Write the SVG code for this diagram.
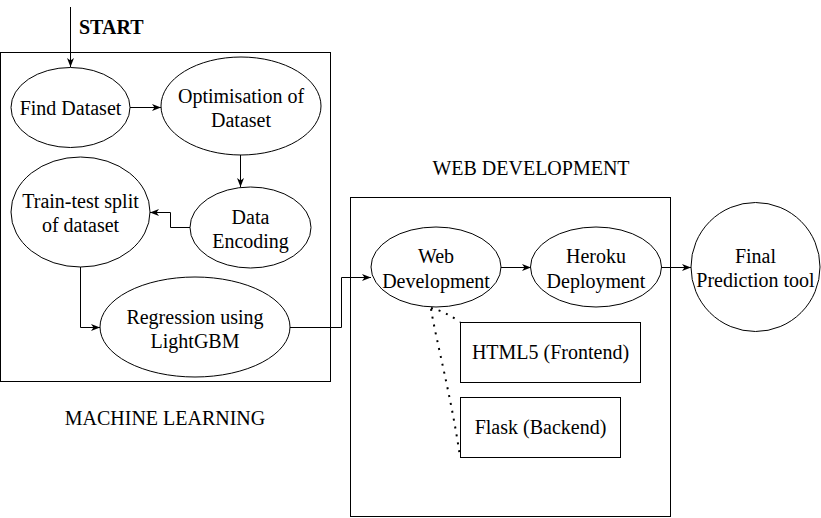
<svg xmlns="http://www.w3.org/2000/svg" width="821" height="518" viewBox="0 0 821 518" font-family="Liberation Serif, Times New Roman, Times, serif">
<defs>
<style>
.n{fill:#fff;stroke:#000;stroke-width:1}
.c{fill:none;stroke:#000;stroke-width:1}
.d{fill:none;stroke:#000;stroke-width:2;stroke-dasharray:2 6}
text{font-size:20px;fill:#000;text-anchor:middle}
.b{font-weight:bold;text-anchor:start}
</style>
<marker id="a" markerUnits="userSpaceOnUse" markerWidth="10" markerHeight="8" refX="9" refY="3.5" orient="auto">
<path d="M0,0 L9,3.5 L0,7 L2.5,3.5 Z" fill="#000"/>
</marker>
</defs>
<rect width="821" height="518" fill="#fff"/>
<g id="ml-box">
<rect class="c" x="0.5" y="52.5" width="330" height="329"/>
<text x="165" y="425">MACHINE LEARNING</text>
</g>
<g id="web-box">
<rect class="c" x="350.5" y="197.5" width="320" height="319"/>
<text x="531" y="175">WEB DEVELOPMENT</text>
</g>
<g id="start">
<text class="b" x="79" y="34">START</text>
</g>
<g id="connectors">
<path class="c" d="M70.5,7 V67" marker-end="url(#a)"/>
<path class="c" d="M130,107.5 H161" marker-end="url(#a)"/>
<path class="c" d="M240.5,155 V187" marker-end="url(#a)"/>
<path class="c" d="M190,227.5 H170.5 V212.5 H150" marker-end="url(#a)"/>
<path class="c" d="M80.5,267 V327.5 H100" marker-end="url(#a)"/>
<path class="c" d="M290,327.5 H341.5 V277.5 H371" marker-end="url(#a)"/>
<path class="c" d="M501,267.5 H531" marker-end="url(#a)"/>
<path class="c" d="M661.5,267.5 H691" marker-end="url(#a)"/>
<path class="d" d="M431,308 Q446,312 460,322"/>
<path class="d" d="M431,309 C436,340 452,400 460,457"/>
</g>
<g id="find-dataset">
<ellipse class="n" cx="70.5" cy="107.5" rx="59.5" ry="40"/>
<text x="70.5" y="115">Find Dataset</text>
</g>
<g id="optimisation">
<ellipse class="n" cx="241" cy="106" rx="80" ry="49"/>
<text x="241" y="103">Optimisation of</text>
<text x="241" y="127">Dataset</text>
</g>
<g id="data-encoding">
<ellipse class="n" cx="250.5" cy="227.5" rx="60.5" ry="40.5"/>
<text x="250.5" y="223.5">Data</text>
<text x="250.5" y="247.5">Encoding</text>
</g>
<g id="train-test">
<ellipse class="n" cx="80.5" cy="212" rx="69.5" ry="55"/>
<text x="80.5" y="208">Train-test split</text>
<text x="80.5" y="232">of dataset</text>
</g>
<g id="regression">
<ellipse class="n" cx="195" cy="327" rx="95" ry="50"/>
<text x="195" y="323.5">Regression using</text>
<text x="195" y="347.5">LightGBM</text>
</g>
<g id="web-development">
<ellipse class="n" cx="436" cy="267" rx="65" ry="40"/>
<text x="436" y="263">Web</text>
<text x="436" y="287.5">Development</text>
</g>
<g id="heroku">
<ellipse class="n" cx="596" cy="267" rx="65.5" ry="40"/>
<text x="596" y="263">Heroku</text>
<text x="596" y="287.5">Deployment</text>
</g>
<g id="final">
<circle class="n" cx="755.5" cy="267" r="64.5"/>
<text x="755.5" y="263">Final</text>
<text x="755.5" y="287">Prediction tool</text>
</g>
<g id="html5">
<rect class="n" x="460.5" y="322.5" width="180" height="60"/>
<text x="550.5" y="359">HTML5 (Frontend)</text>
</g>
<g id="flask">
<rect class="n" x="460.5" y="397.5" width="160" height="60"/>
<text x="540.5" y="434">Flask (Backend)</text>
</g>
</svg>
